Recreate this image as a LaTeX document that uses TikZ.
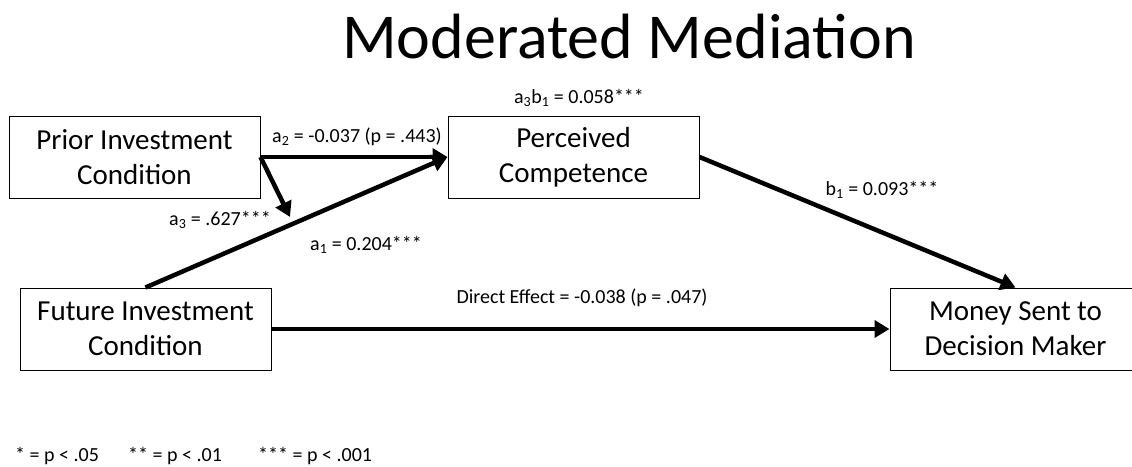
\documentclass[tikz,border=0pt]{standalone}
\usepackage{fontspec}
\setmainfont{Carlito}
\usetikzlibrary{arrows.meta}
\tikzset{
  varbox/.style={draw, line width=1pt, minimum width=251pt, minimum height=82pt, inner sep=0pt, align=center, font=\fontsize{29}{35}\selectfont},
  coef/.style={anchor=base, inner sep=0pt, font=\fontsize{20}{24}\selectfont},
  effect/.style={line width=4.5pt, -{Triangle[length=15pt,width=17pt]}}
}

\begin{document}
\begin{tikzpicture}[x=1pt,y=-1pt]
\clip (0,0) rectangle (1132,466);
\node[anchor=base, inner sep=0pt, font=\fontsize{64}{70}\selectfont] (title) at (629,58) {Moderated Mediation};

\node[varbox] (prior) at (134.5,157) {Prior Investment\\Condition};
\node[varbox] (future) at (145.5,329) {Future Investment\\Condition};
\node[varbox] (comp) at (573.5,157) {Perceived\\Competence};
\node[varbox] (money) at (1015.5,329) {Money Sent to\\Decision Maker};

\coordinate (mod) at (290,217);
\draw[effect] (prior.east) -- (comp.west);
\draw[effect] (prior.east) -- (mod);
\draw[effect] (future.north) -- (comp.west);
\draw[effect] (comp.east) -- (money.north);
\draw[effect] (future.east) -- (money.west);

\node[coef] (a2) at (357,142) {a\textsubscript{2} = -0.037 (p = .443)};
\node[coef] (a3) at (220,225) {a\textsubscript{3} = .627***};
\node[coef] (a1) at (366,250) {a\textsubscript{1} = 0.204***};
\node[coef] (a3b1) at (579,103) {a\textsubscript{3}b\textsubscript{1} = 0.058***};
\node[coef] (b1) at (882,195) {b\textsubscript{1} = 0.093***};
\node[coef] (direct) at (582,303) {Direct Effect = -0.038 (p = .047)};

\node[coef, anchor=base west] (note1) at (15,461) {* = p < .05};
\node[coef, anchor=base west] (note2) at (128,461) {** = p < .01};
\node[coef, anchor=base west] (note3) at (258,461) {*** = p < .001};
\end{tikzpicture}
\end{document}
